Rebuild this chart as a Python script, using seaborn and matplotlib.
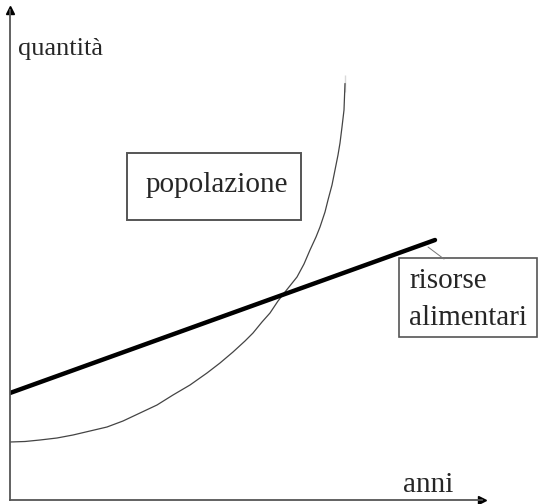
import matplotlib
matplotlib.use("Agg")
import matplotlib.pyplot as plt
import seaborn as sns
import pandas as pd
from matplotlib.patches import Rectangle

# Dati (unità arbitrarie: anni / quantità)
anni_pop = [0, 15, 30, 47, 63, 80, 97, 113, 130, 147,
            163, 180, 197, 210, 223, 235, 243, 252, 260, 268,
            275, 287, 294, 300, 306, 310, 315, 318, 322, 325,
            328, 330, 332, 334, 335, 335]
popolazione = [58, 58.5, 60, 62, 65, 69, 73, 79, 87, 95,
               105, 115, 127, 137, 148, 159, 167, 178, 187, 199,
               208, 223, 236, 250, 263, 273, 288, 300, 315, 330,
               345, 357, 373, 390, 408, 425]

anni_ris = [0, 425]
risorse = [107, 260]

df_pop = pd.DataFrame({"anni": anni_pop, "quantita": popolazione})
df_ris = pd.DataFrame({"anni": anni_ris, "quantita": risorse})

sns.set_style("white")
plt.rcParams["font.family"] = ["Liberation Serif", "DejaVu Serif"]

fig = plt.figure(figsize=(5.39, 5.04), dpi=100)
ax = fig.add_axes([10 / 539, 4 / 504, 472 / 539, 490 / 504])

sns.lineplot(data=df_pop, x="anni", y="quantita", ax=ax, color="#444444",
             linewidth=0.9, sort=False)
sns.lineplot(data=df_ris, x="anni", y="quantita", ax=ax, color="black",
             linewidth=3.2)

ax.set_xlim(0, 472)
ax.set_ylim(0, 490)
ax.set_xticks([])
ax.set_yticks([])
ax.set_xlabel("")
ax.set_ylabel("")
for s in ["top", "right"]:
    ax.spines[s].set_visible(False)
for s in ["left", "bottom"]:
    ax.spines[s].set_color("#555555")
    ax.spines[s].set_linewidth(1.3)

# frecce degli assi
ax.plot(1, 0, ">", color="black", markersize=6, transform=ax.get_yaxis_transform(), clip_on=False)
ax.plot(0, 1, "^", color="black", markersize=6, transform=ax.get_xaxis_transform(), clip_on=False)

# livello di annotazione in pixel
ov = fig.add_axes([0, 0, 1, 1], facecolor="none")
ov.set_xlim(0, 539)
ov.set_ylim(504, 0)
ov.axis("off")

fs = 19
ov.text(18, 55, "quantità", fontsize=fs, va="baseline", ha="left")
ov.text(403, 492, "anni", fontsize=fs + 2, va="baseline", ha="left")

ov.add_patch(Rectangle((127, 153), 174, 67, fill=False, edgecolor="#555555", linewidth=1.4))
ov.text(146, 192, "popolazione", fontsize=fs + 2, va="baseline", ha="left")

ov.add_patch(Rectangle((399, 258), 138, 79, fill=False, edgecolor="#555555", linewidth=1.2))
ov.text(409, 288, "risorse", fontsize=fs + 2, va="baseline", ha="left")
ov.text(409, 325, "alimentari", fontsize=fs + 2, va="baseline", ha="left")
ov.plot([428, 444], [247, 259], color="#777777", linewidth=0.7)

fig.savefig("out.png", dpi=100)
